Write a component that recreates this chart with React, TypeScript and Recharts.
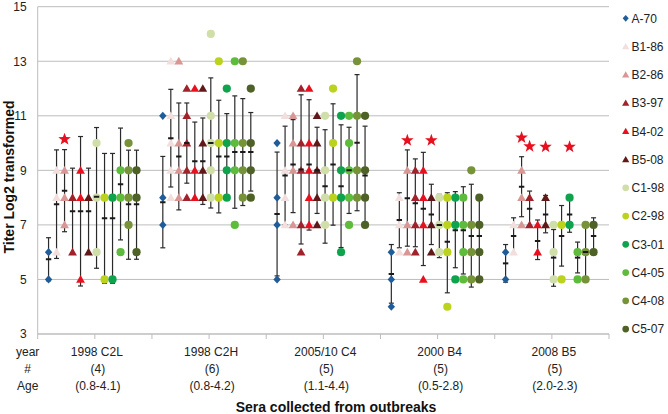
import React from 'react';
import { ScatterChart, Scatter, XAxis, YAxis, CartesianGrid, ErrorBar } from 'recharts';

// ---- categories / labels ----
const categories = ['1998 C2L', '1998 C2H', '2005/10 C4', '2000 B4', '2008 B5'];
const counts = ['(4)', '(6)', '(5)', '(5)', '(5)'];
const ages = ['(0.8-4.1)', '(0.8-4.2)', '(1.1-4.4)', '(0.5-2.8)', '(2.0-2.3)'];
const rowLabels = ['year', '#', 'Age'];
const yTicks = [3, 5, 7, 9, 11, 13, 15];
const xTicks = [0, 1, 2, 3, 4, 5, 6, 7, 8, 9, 10];

// ---- individual sera titers per outbreak (per series) ----
const A70_pts = [[6, 5], [11, 8, 7], [10, 8, 7, 5], [6, 5, 4], [6, 5]];
const B186_pts = [[9, 8, 6], [13, 11, 10, 9, 8], [11, 9, 8, 7], [8, 7, 6], [7, 6]];
const B286_pts = [[9, 8, 7], [13, 10, 9, 8], [11, 10, 9, 7], [9, 7, 6], [9, 8, 7]];
const B397_pts = [[8, 6], [12, 11, 10, 9, 8], [12, 10, 9, 7, 6], [9, 8, 7, 6], [8, 7]];
const B402_pts = [[9, 8, 5], [12, 9, 8], [12, 10, 9, 8, 7], [9, 8, 7, 5], [7, 6]];
const B508_pts = [[8, 6], [12, 10, 9, 8], [11, 10, 9, 8, 7], [8, 7, 6], [8, 7]];
const C198_pts = [[10, 8, 6], [14, 11, 10, 9, 8], [11, 9, 8, 7], [8, 7, 6], [7, 6, 5]];
const C298_pts = [[8, 5], [13, 10, 8], [12, 10, 8], [8, 7, 6, 4], [7, 5]];
const C301_pts = [[8, 5], [12, 10, 9, 8], [11, 9, 8, 6], [8, 7, 5], [8, 7]];
const C405_pts = [[9, 8, 6], [13, 10, 9, 7], [11, 10, 9, 8, 7], [8, 7, 6, 5], [6, 5]];
const C408_pts = [[10, 9, 8, 7], [13, 10, 9, 8], [13, 11, 9, 8], [9, 7, 6, 5], [7, 6, 5]];
const C507_pts = [[9, 8, 6], [12, 10, 9, 8], [11, 9, 8, 7], [8, 7, 6, 5], [7, 6]];

// ---- mean, lower, upper of error bars per outbreak ----
const A70_err = [[5.74, 4.95, 6.53], [7.83, 6.16, 9.51], [7.4, 5.13, 9.67], [5.2, 4.13, 6.28], [5.59, 4.9, 6.28]];
const B186_err = [[7.76, 5.77, 9.75], [10.18, 8.39, 11.97], [8.81, 7.0, 10.62], [7.18, 6.16, 8.18], [6.59, 5.92, 7.26]];
const B286_err = [[8.25, 6.75, 9.76], [9.51, 7.55, 11.47], [9.21, 7.45, 10.86], [7.98, 6.22, 9.75], [8.4, 7.3, 9.5]];
const B397_err = [[7.5, 5.92, 9.08], [10.0, 8.53, 11.47], [9.03, 6.3, 11.77], [7.79, 6.2, 9.42], [7.59, 6.95, 8.24]];
const B402_err = [[7.5, 4.76, 10.24], [9.33, 7.9, 10.77], [9.21, 6.81, 11.59], [7.59, 5.51, 9.66], [6.41, 5.73, 7.18]];
const B508_err = [[7.5, 5.92, 9.08], [9.33, 7.75, 10.92], [9.0, 7.42, 10.58], [7.38, 6.28, 8.49], [7.38, 6.71, 8.08]];
const C198_err = [[8.03, 5.41, 10.57], [10.0, 7.62, 12.39], [8.42, 6.33, 10.49], [7.0, 5.8, 8.12], [5.8, 4.75, 6.83]];
const C298_err = [[7.24, 4.86, 9.62], [9.51, 7.44, 11.57], [9.21, 6.99, 11.44], [6.38, 4.51, 8.18], [6.59, 5.49, 7.71]];
const C301_err = [[7.24, 4.86, 9.62], [9.51, 7.95, 11.08], [8.42, 6.17, 10.67], [6.8, 5.43, 8.22], [7.38, 6.73, 8.03]];
const C405_err = [[8.49, 6.45, 10.55], [9.67, 7.61, 11.73], [9.0, 7.42, 10.58], [6.8, 5.2, 8.4], [5.8, 5.24, 6.37]];
const C408_err = [[7.76, 5.74, 9.74], [9.67, 7.71, 11.63], [10.01, 7.52, 12.51], [6.59, 4.72, 8.49], [6.01, 5.0, 7.0]];
const C507_err = [[7.76, 5.74, 9.74], [9.67, 8.24, 11.12], [8.81, 7.0, 10.62], [6.59, 5.08, 8.08], [6.59, 5.92, 7.26]];

// ---- significance stars ----
const starCat = [0, 3, 3, 4, 4, 4, 4];
const starSeries = [2, 2, 5, 2, 3, 5, 8];
const starValues = [10.14, 10.1, 10.1, 10.2, 9.88, 9.86, 9.86];

type ShapeKind = 'diamond' | 'triangle' | 'circle';
const seriesDefs: { name: string; color: string; kind: ShapeKind; pts: number[][]; err: number[][] }[] = [
  { name: 'A-70', color: '#1F5C98', kind: 'diamond', pts: A70_pts, err: A70_err },
  { name: 'B1-86', color: '#F2DEDD', kind: 'triangle', pts: B186_pts, err: B186_err },
  { name: 'B2-86', color: '#D99694', kind: 'triangle', pts: B286_pts, err: B286_err },
  { name: 'B3-97', color: '#A0222A', kind: 'triangle', pts: B397_pts, err: B397_err },
  { name: 'B4-02', color: '#E8101F', kind: 'triangle', pts: B402_pts, err: B402_err },
  { name: 'B5-08', color: '#611818', kind: 'triangle', pts: B508_pts, err: B508_err },
  { name: 'C1-98', color: '#D0DEAA', kind: 'circle', pts: C198_pts, err: C198_err },
  { name: 'C2-98', color: '#BBD31E', kind: 'circle', pts: C298_pts, err: C298_err },
  { name: 'C3-01', color: '#0EA34C', kind: 'circle', pts: C301_pts, err: C301_err },
  { name: 'C4-05', color: '#5EBB3C', kind: 'circle', pts: C405_pts, err: C405_err },
  { name: 'C4-08', color: '#77933A', kind: 'circle', pts: C408_pts, err: C408_err },
  { name: 'C5-07', color: '#4E6228', kind: 'circle', pts: C507_pts, err: C507_err },
];

const xFor = (c: number, s: number) => 2 * c + 1 + (s - 5.5) * 0.14 - 0.04;

const marker = (kind: ShapeKind, color: string, cx: number, cy: number, k = 1) => {
  if (kind === 'diamond') {
    const w = 3.7 * k, h = 4.1 * k;
    return <polygon points={`${cx},${cy - h} ${cx + w},${cy} ${cx},${cy + h} ${cx - w},${cy}`} fill={color} />;
  }
  if (kind === 'triangle') {
    const w = 4.4 * k;
    return <polygon points={`${cx},${cy - 4.4 * k} ${cx + w},${cy + 3.3 * k} ${cx - w},${cy + 3.3 * k}`} fill={color} />;
  }
  return <circle cx={cx} cy={cy} r={4.1 * k} fill={color} />;
};

const starPath = (cx: number, cy: number, R: number, r: number) => {
  const p: string[] = [];
  for (let i = 0; i < 10; i++) {
    const rad = i % 2 === 0 ? R : r;
    const a = -Math.PI / 2 + (i * Math.PI) / 5;
    p.push(`${(cx + rad * Math.cos(a)).toFixed(2)},${(cy + rad * Math.sin(a)).toFixed(2)}`);
  }
  return p.join(' ');
};

const errData = seriesDefs.flatMap((sd, s) =>
  sd.err.map((e, c) => ({ x: xFor(c, s), y: e[0], e: [e[0] - e[1], e[2] - e[0]] }))
);
const starData = starValues.map((v, i) => ({ x: xFor(starCat[i], starSeries[i]), y: v }));

const FONT = '"Liberation Sans", Arial, sans-serif';
const TXT = '#222';

const CatTick = (props: any) => {
  const { x, y, payload } = props;
  const v = payload.value;
  if (v === 0) {
    return (
      <g fontFamily={FONT} fontSize={12} fill={TXT}>
        {rowLabels.map((t, i) => (
          <text key={t} x={x - 10} y={y + 14.5 + i * 17.2} textAnchor="middle" fill={TXT}>{t}</text>
        ))}
      </g>
    );
  }
  if (v % 2 === 1) {
    const c = (v - 1) / 2;
    const lines = [categories[c], counts[c], ages[c]];
    return (
      <g fontFamily={FONT} fontSize={12}>
        {lines.map((t, i) => (
          <text key={i} x={x + (i === 0 ? 2 : 3)} y={y + 14.5 + i * 17.2} textAnchor="middle" fill={TXT}>{t}</text>
        ))}
      </g>
    );
  }
  return <g />;
};

export default function App() {
  return (
    <div style={{ position: 'absolute', left: 0, top: 0, width: 668, height: 414, background: '#fff' }}>
      <ScatterChart width={668} height={414} margin={{ top: 6.7, right: 59, bottom: 0, left: 0 }} style={{ fontFamily: FONT }}>
        <CartesianGrid horizontal vertical={false} stroke="#BDBDBD" />
        <XAxis
          type="number"
          dataKey="x"
          domain={[0, 10]}
          ticks={xTicks}
          interval={0}
          height={80}
          tickSize={5}
          tickMargin={2}
          axisLine={{ stroke: '#BDBDBD' }}
          tickLine={{ stroke: '#BDBDBD' }}
          tick={<CatTick />}
          allowDataOverflow
          label={{
            content: () => (
              <text x={336} y={411.5} textAnchor="middle" fontFamily={FONT} fontSize={14} fontWeight="bold" fill="#111">
                Sera collected from outbreaks
              </text>
            ),
          }}
        />
        <YAxis
          type="number"
          dataKey="y"
          domain={[3, 15]}
          ticks={yTicks}
          interval={0}
          width={37.7}
          tickLine={false}
          tickSize={6}
          tickMargin={5}
          axisLine={{ stroke: '#BDBDBD' }}
          tick={{ fontSize: 12, fill: TXT, fontFamily: FONT }}
          allowDataOverflow
          label={{
            content: () => (
              <text x={14} y={177} transform="rotate(-90 14 177)" textAnchor="middle" fontFamily={FONT} fontSize={14} fontWeight="bold" fill="#111">
                Titer Log2 transformed
              </text>
            ),
          }}
        />
        <Scatter data={errData} isAnimationActive={false} shape={() => <g />}>
          <ErrorBar dataKey="e" direction="y" width={2.5} stroke="#2a2a2a" strokeWidth={1.2} isAnimationActive={false} />
        </Scatter>
        {seriesDefs.map((sd, s) => (
          <Scatter
            key={sd.name}
            name={sd.name}
            data={sd.pts.flatMap((vals, c) => vals.map((v) => ({ x: xFor(c, s), y: v })))}
            isAnimationActive={false}
            shape={(p: any) => marker(sd.kind, sd.color, p.cx, p.cy)}
          />
        ))}
        <Scatter
          data={errData}
          isAnimationActive={false}
          shape={(p: any) => <line x1={p.cx - 2.7} x2={p.cx + 2.7} y1={p.cy} y2={p.cy} stroke="#1a1a1a" strokeWidth={2} />}
        />
        <Scatter
          data={starData}
          isAnimationActive={false}
          shape={(p: any) => <polygon points={starPath(p.cx, p.cy, 6.6, 2.7)} fill="#E8101F" />}
        />
      </ScatterChart>
      <svg style={{ position: 'absolute', left: 615, top: 0 }} width={53} height={414}>
        {seriesDefs.map((sd, i) => {
          const cy = 18.3 + i * 28.25;
          return (
            <g key={sd.name}>
              {marker(sd.kind, sd.color, 10.7, cy, 0.82)}
              <text x={16.5} y={cy + 4.3} fontFamily={FONT} fontSize={12} fill={TXT}>{sd.name}</text>
            </g>
          );
        })}
      </svg>
    </div>
  );
}
